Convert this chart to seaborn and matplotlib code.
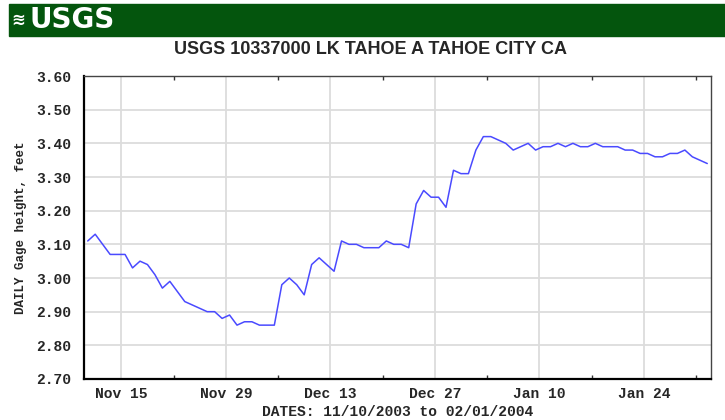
import pandas as pd
import seaborn as sns
import matplotlib
matplotlib.use('Agg')
import matplotlib.pyplot as plt
import matplotlib.dates as mdates
from matplotlib.patches import Rectangle

# daily gage height, 11/10/2003 .. 02/01/2004
start_date = '2003-11-10'
gage_height = [
    3.11, 3.13, 3.10, 3.07, 3.07, 3.07, 3.03, 3.05, 3.04, 3.01,
    2.97, 2.99, 2.96, 2.93, 2.92, 2.91, 2.90, 2.90, 2.88, 2.89,
    2.86, 2.87, 2.87, 2.86, 2.86, 2.86, 2.98, 3.00, 2.98, 2.95,
    3.04, 3.06, 3.04, 3.02, 3.11, 3.10, 3.10, 3.09, 3.09, 3.09,
    3.11, 3.10, 3.10, 3.09, 3.22, 3.26, 3.24, 3.24, 3.21, 3.32,
    3.31, 3.31, 3.38, 3.42, 3.42, 3.41, 3.40, 3.38, 3.39, 3.40,
    3.38, 3.39, 3.39, 3.40, 3.39, 3.40, 3.39, 3.39, 3.40, 3.39,
    3.39, 3.39, 3.38, 3.38, 3.37, 3.37, 3.36, 3.36, 3.37, 3.37,
    3.38, 3.36, 3.35, 3.34,
]
major_dates = ['2003-11-15', '2003-11-29', '2003-12-13', '2003-12-27', '2004-01-10', '2004-01-24']
minor_dates = ['2003-11-22', '2003-12-06', '2003-12-20', '2004-01-03', '2004-01-17', '2004-01-31']
y_ticks = [2.70, 2.80, 2.90, 3.00, 3.10, 3.20, 3.30, 3.40, 3.50, 3.60]

title = 'USGS 10337000 LK TAHOE A TAHOE CITY CA'
ylab = 'DAILY Gage height, feet'
xlab = 'DATES: 11/10/2003 to 02/01/2004'

# daily values are plotted at noon of each day
dates = pd.date_range(start_date, periods=len(gage_height), freq='D') + pd.Timedelta(hours=12)
df = pd.DataFrame({'date': dates, 'gage': gage_height})

sns.set_style('white')
mono = ['Liberation Mono', 'DejaVu Sans Mono']

fig = plt.figure(figsize=(7.25, 4.2), dpi=100)
ax = fig.add_axes([84 / 725, 1 - 379 / 420, 627 / 725, 303 / 420])

sns.lineplot(data=df, x='date', y='gage', ax=ax, color='#4a4aff', linewidth=1.1)

ax.set_xlim(pd.Timestamp(start_date), pd.Timestamp(start_date) + pd.Timedelta(days=len(gage_height)))
ax.set_ylim(y_ticks[0], y_ticks[-1])

ax.set_xticks(pd.to_datetime(major_dates))
ax.set_xticks(pd.to_datetime(minor_dates), minor=True)
ax.xaxis.set_major_formatter(mdates.DateFormatter('%b %d'))
ax.set_yticks(y_ticks)
ax.set_yticklabels([f'{v:.2f}' for v in y_ticks])

ax.grid(True, which='major', color='#dcdcdc', linewidth=1.3)
ax.set_axisbelow(True)
ax.tick_params(axis='both', which='major', length=0)
ax.tick_params(axis='x', which='major', pad=6)
ax.tick_params(axis='y', which='major', pad=9)
ax.tick_params(axis='x', which='minor', direction='in', length=3, width=1,
               color='#333333', top=True, bottom=True)
for lbl in ax.get_xticklabels() + ax.get_yticklabels():
    lbl.set_family(mono)
    lbl.set_fontweight('bold')
    lbl.set_fontsize(10.5)

for side in ['top', 'right']:
    ax.spines[side].set_color('#444444')
    ax.spines[side].set_linewidth(1)
for side in ['left', 'bottom']:
    ax.spines[side].set_color('black')
    ax.spines[side].set_linewidth(1.6)

ax.set_xlabel(xlab, family=mono, fontweight='bold', fontsize=10.5, labelpad=3)
ax.set_ylabel(ylab, family=mono, fontweight='bold', fontsize=9, labelpad=7)

# header banner
fig.add_artist(Rectangle((9 / 725, 1 - 36 / 420), 716 / 725, 32 / 420,
                         transform=fig.transFigure, color='#04550d', zorder=0))
fig.text(11 / 725, 1 - 20 / 420, '\u224b', color='white', fontsize=12,
         fontweight='bold', va='center', ha='left', family='DejaVu Sans')
fig.text(29 / 725, 1 - 20 / 420, 'USGS', color='white', fontsize=20,
         fontweight='bold', va='center', ha='left', family='DejaVu Sans')

fig.text(370 / 725, 1 - 50 / 420, title, fontsize=13, fontweight='bold',
         ha='center', va='center', family=['Liberation Sans', 'DejaVu Sans'])

fig.savefig('out.png', dpi=100)
